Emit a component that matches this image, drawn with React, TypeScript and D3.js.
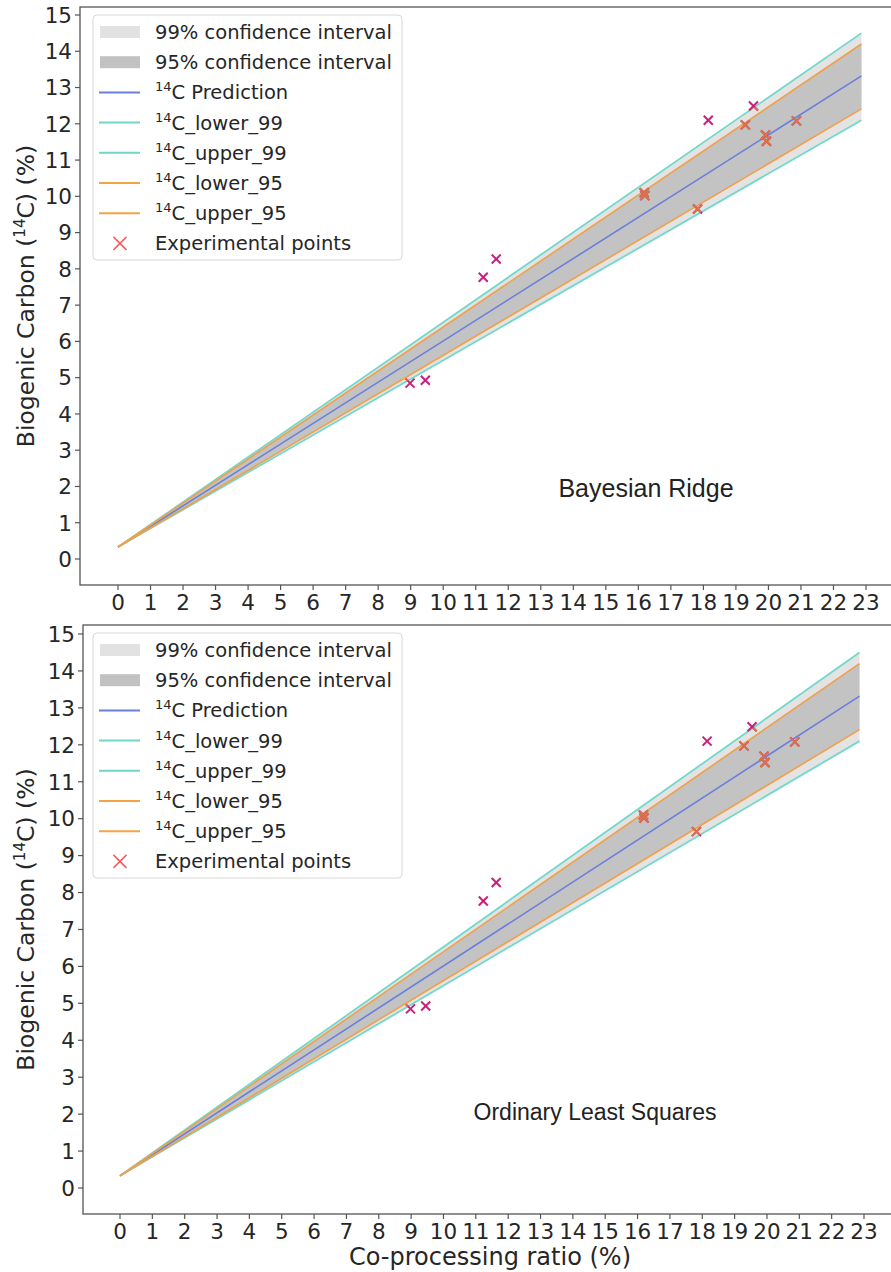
import React from 'react';
import * as d3 from 'd3';

// regression lines (straight, so two end points each)
const lineX = [0, 22.86];
const prediction = [0.33, 13.32];
const lower99 = [0.33, 12.1];
const upper99 = [0.33, 14.5];
const lower95 = [0.33, 12.41];
const upper95 = [0.33, 14.2];

// experimental points
const expX = [8.98, 9.45, 11.23, 11.63, 16.18, 16.2, 17.82, 18.15, 19.29, 19.54, 19.91, 19.94, 20.86];
const expY = [4.85, 4.93, 7.77, 8.27, 10.1, 10.02, 9.65, 12.1, 11.97, 12.49, 11.69, 11.52, 12.08];

const xTicks = d3.range(0, 24);
const yTicks = d3.range(0, 16);

const legendItems = [
  { kind: 'rect', color: '#e2e2e2', sup: '', text: '99% confidence interval' },
  { kind: 'rect', color: '#c2c2c2', sup: '', text: '95% confidence interval' },
  { kind: 'line', color: '#6a7fdc', sup: '14', text: 'C Prediction' },
  { kind: 'line', color: '#6fd6cb', sup: '14', text: 'C_lower_99' },
  { kind: 'line', color: '#6fd6cb', sup: '14', text: 'C_upper_99' },
  { kind: 'line', color: '#f4a445', sup: '14', text: 'C_lower_95' },
  { kind: 'line', color: '#f4a445', sup: '14', text: 'C_upper_95' },
  { kind: 'x', color: '#f55a5a', sup: '', text: 'Experimental points' },
];

const FONT = 'DejaVu Sans, sans-serif';
const TEXT = '#262626';

type PanelProps = {
  id: string;
  left: number;
  top: number;
  bottom: number;
  x0: number;
  x23: number;
  y0: number;
  y15: number;
  title: string;
  titleX: number;
  titleY: number;
  titleSize: number;
};

function Cross({ cx, cy, r, color, w }: { cx: number; cy: number; r: number; color: string; w: number }) {
  return (
    <g stroke={color} strokeWidth={w} strokeLinecap="butt">
      <line x1={cx - r} y1={cy - r} x2={cx + r} y2={cy + r} />
      <line x1={cx - r} y1={cy + r} x2={cx + r} y2={cy - r} />
    </g>
  );
}

function Panel(p: PanelProps) {
  const right = 893;
  const x = d3.scaleLinear().domain([0, 23]).range([p.x0, p.x23]);
  const y = d3.scaleLinear().domain([0, 15]).range([p.y0, p.y15]);

  const pts = lineX.map((v, i) => i);
  const band = (lo: number[], hi: number[]) =>
    d3
      .area<number>()
      .x((i) => x(lineX[i]))
      .y0((i) => y(lo[i]))
      .y1((i) => y(hi[i]))(pts) as string;
  const line = (vals: number[]) =>
    d3
      .line<number>()
      .x((i) => x(lineX[i]))
      .y((i) => y(vals[i]))(pts) as string;

  const legX = 93;
  const legY = p.top + 8;
  const rowH = 30.2;

  const markers = (color: string) =>
    expX.map((v, i) => <Cross key={i} cx={x(v)} cy={y(expY[i])} r={4.5} color={color} w={2} />);

  return (
    <g>
      <defs>
        <clipPath id={`band-${p.id}`}>
          <path d={band(lower99, upper99)} />
        </clipPath>
      </defs>
      <path d={band(lower99, upper99)} fill="#e3e3e3" />
      <path d={band(lower95, upper95)} fill="#c3c3c3" />
      <path d={line(prediction)} fill="none" stroke="#6a7fdc" strokeWidth={1.6} />
      <path d={line(lower99)} fill="none" stroke="#72d8cc" strokeWidth={1.8} />
      <path d={line(upper99)} fill="none" stroke="#72d8cc" strokeWidth={1.8} />
      <path d={line(lower95)} fill="none" stroke="#f0a04a" strokeWidth={1.6} />
      <path d={line(upper95)} fill="none" stroke="#f0a04a" strokeWidth={1.6} />
      <g>{markers('#c8207e')}</g>
      <g clipPath={`url(#band-${p.id})`}>{markers('#d7734c')}</g>

      {/* frame */}
      <rect x={p.left} y={p.top} width={right - p.left} height={p.bottom - p.top} fill="none" stroke="#555" strokeWidth={1.3} />

      {/* x axis */}
      {xTicks.map((t) => (
        <g key={t}>
          <line x1={x(t)} x2={x(t)} y1={p.bottom} y2={p.bottom + 5} stroke="#555" strokeWidth={1.2} />
          <text x={x(t)} y={p.bottom + 25} textAnchor="middle" fontFamily={FONT} fontSize={21.5} fill={TEXT}>
            {t}
          </text>
        </g>
      ))}
      {/* y axis */}
      {yTicks.map((t) => (
        <g key={t}>
          <line x1={p.left - 5} x2={p.left} y1={y(t)} y2={y(t)} stroke="#555" strokeWidth={1.2} />
          <text x={p.left - 8} y={y(t) + 7.8} textAnchor="end" fontFamily={FONT} fontSize={21.5} fill={TEXT}>
            {t}
          </text>
        </g>
      ))}
      <text
        transform={`translate(34,${(p.top + p.bottom) / 2}) rotate(-90)`}
        textAnchor="middle"
        fontFamily={FONT}
        fontSize={23.5}
        fill={TEXT}
      >
        Biogenic Carbon (<tspan fontSize={15} dy={-9}>14</tspan>
        <tspan dy={9}>C) (%)</tspan>
      </text>

      <text x={p.titleX} y={p.titleY} textAnchor="middle" fontFamily="Liberation Sans, Arial, sans-serif" fontSize={p.titleSize} fill="#222">
        {p.title}
      </text>

      {/* legend */}
      <rect x={legX} y={legY} width={309} height={245} rx={4} fill="#fff" fillOpacity={0.85} stroke="#d8d8d8" strokeWidth={1} />
      {legendItems.map((it, i) => {
        const cy = legY + 17 + i * rowH;
        return (
          <g key={i}>
            {it.kind === 'rect' && <rect x={100} y={cy - 6} width={40} height={12} fill={it.color} />}
            {it.kind === 'line' && <line x1={99} x2={140} y1={cy} y2={cy} stroke={it.color} strokeWidth={2} />}
            {it.kind === 'x' && <Cross cx={120} cy={cy} r={6.5} color={it.color} w={1.5} />}
            <text x={155} y={cy + 7} fontFamily={FONT} fontSize={19.5} fill={TEXT}>
              {it.sup && (
                <tspan fontSize={13} dy={-8}>
                  {it.sup}
                </tspan>
              )}
              {it.sup ? <tspan dy={8}>{it.text}</tspan> : it.text}
            </text>
          </g>
        );
      })}
    </g>
  );
}

export default function App() {
  return (
    <div style={{ position: 'absolute', left: 0, top: 0 }}>
      <svg width={891} height={1272} style={{ display: 'block', background: '#fff' }}>
        <Panel id="top" left={80} top={7} bottom={585} x0={118} x23={866} y0={559} y15={15} title="Bayesian Ridge" titleX={646} titleY={497} titleSize={25} />
        <Panel id="bot" left={83} top={625} bottom={1214} x0={120} x23={864} y0={1188} y15={634} title="Ordinary Least Squares" titleX={595} titleY={1120} titleSize={23} />
        <text x={490} y={1265} textAnchor="middle" fontFamily={FONT} fontSize={24} fill={TEXT}>
          Co-processing ratio (%)
        </text>
      </svg>
    </div>
  );
}
